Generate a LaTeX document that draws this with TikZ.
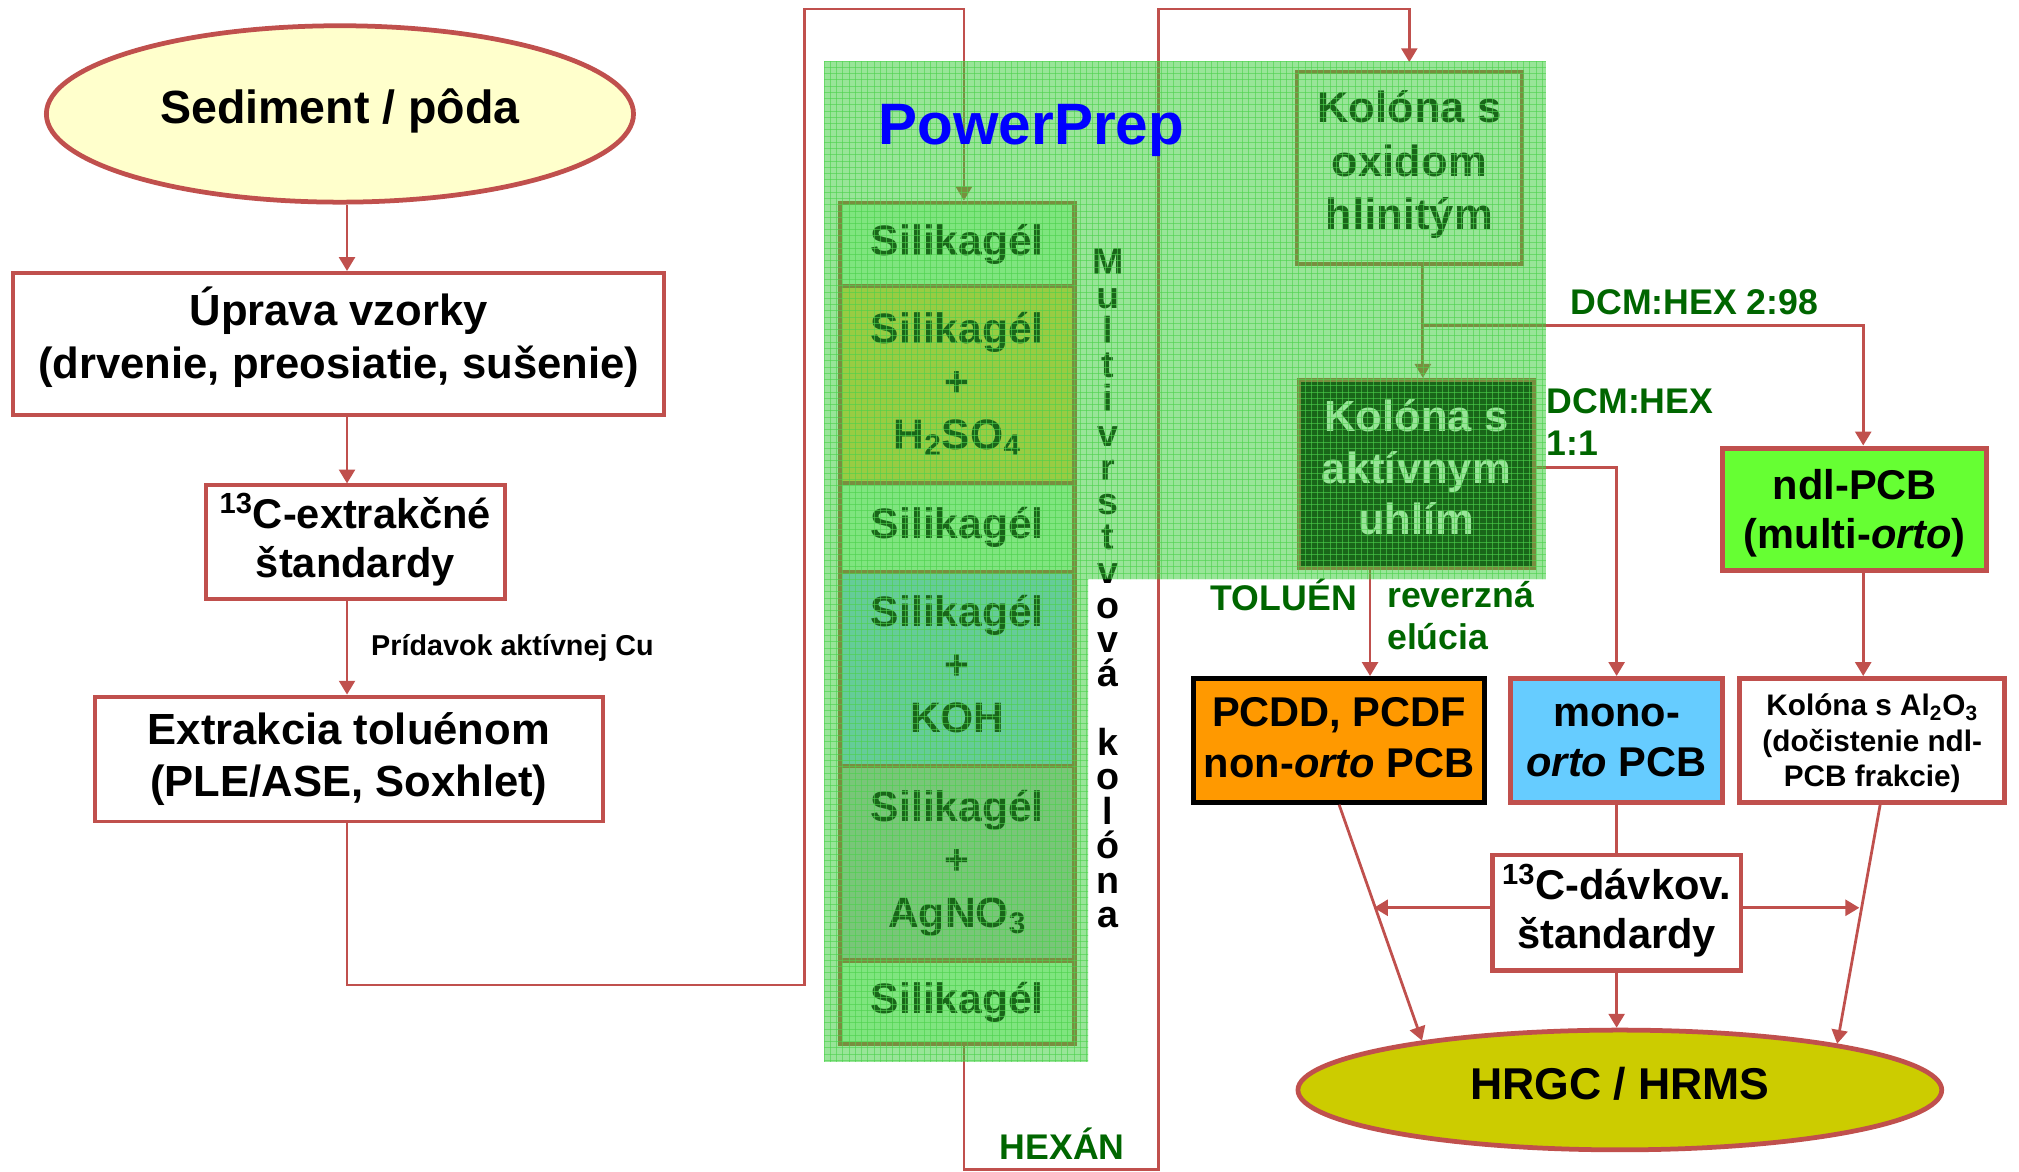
\documentclass[tikz,border=0pt]{standalone}
\usepackage{fontspec}
\setmainfont{Liberation Sans}
\usetikzlibrary{arrows.meta,shapes.geometric}
\definecolor{redb}{HTML}{C0504D}
\definecolor{dgreen}{HTML}{006600}
\definecolor{ovl}{rgb}{0.2,0.8,0.2}
\definecolor{gridc}{rgb}{0.3,0.82,0.3}
\definecolor{lyel}{HTML}{FFFFCC}
\definecolor{hrgcc}{HTML}{CCCC00}
\definecolor{pcddc}{HTML}{FF9900}
\definecolor{monoc}{HTML}{66CCFF}
\definecolor{ndlc}{HTML}{66FF33}
\definecolor{silc}{HTML}{CCFFCC}
\definecolor{hsoc}{HTML}{FFCC55}
\definecolor{kohc}{HTML}{99CCFF}
\definecolor{agc}{HTML}{C0C0C0}
\definecolor{ppblue}{HTML}{0000FF}
\newcommand\fsA{\fontsize{22}{26.7}\selectfont}
\newcommand\fsB{\fontsize{21}{24.8}\selectfont}
\newcommand\fsC{\fontsize{21}{25.5}\selectfont}
\newcommand\fsD{\fontsize{15}{17.9}\selectfont}
\newcommand\fsL{\fontsize{18}{21.3}\selectfont}
\newcommand\fsS{\fontsize{21.5}{26.6}\selectfont}
\newcommand\bx[7]{\node[#6, minimum width={(#4-#2)*0.65pt}, minimum height={(#5-#3)*0.65pt}] (#1) at ({(#2+#4)/2},{(#3+#5)/2}) {#7};}
\begin{document}
\begin{tikzpicture}[x=0.65pt,y=-0.65pt,
  every node/.style={font=\bfseries, inner sep=0pt, align=center},
  box/.style={rectangle, draw=redb, line width=2pt, fill=white},
  rbox/.style={rectangle, draw=redb, line width=2.6pt, fill=white},
  cell/.style={rectangle, draw=redb, line width=2.2pt, font=\bfseries\fsS},
  conn/.style={draw=redb, line width=1.4pt},
  arr/.style={conn, -{Triangle[length=7pt,width=8pt]}},
  lbl/.style={text=dgreen, font=\bfseries\fsL},
  vl/.style={font=\bfseries\fontsize{19}{19}\selectfont, anchor=base},
]
\useasboundingbox (0,0) rectangle (1568,910);
\fill[white] (0,0) rectangle (1568,910);

% left column
\node[ellipse, draw=redb, line width=2.4pt, fill=lyel, minimum width={456*0.65pt}, minimum height={137*0.65pt}, font=\bfseries\fontsize{23.5}{28}\selectfont, text depth=8pt] (sed) at (264,88.5) {Sediment / pôda};
\bx{upr}{10}{212}{516}{322}{box, font=\bfseries\fsA, text depth=11pt}{Úprava vzorky\\(drvenie, preosiatie, sušenie)}
\bx{e13}{160}{377}{392}{465}{box, font=\bfseries\fsB, text depth=7pt}{\textsuperscript{13}C-extrakčné\\štandardy}
\bx{extr}{74}{541}{468}{638}{box, font=\bfseries\fsA}{Extrakcia toluénom\\(PLE/ASE, Soxhlet)}
\coordinate (cx) at (269.5,0);
\draw[arr] (sed.south -| cx) -- (upr.north -| cx);
\draw[arr] (upr.south -| cx) -- (e13.north -| cx);
\draw[arr] (e13.south -| cx) -- (extr.north -| cx);
\node[anchor=west, font=\bfseries\fontsize{14.5}{17}\selectfont] (cu) at (288,503) {Prídavok aktívnej Cu};

% multilayer column
\bx{s1}{652.5}{157.5}{834.5}{222}{cell, fill=silc}{Silikagél}
\bx{s2}{652.5}{222}{834.5}{375}{cell, fill=hsoc}{Silikagél\\+\\H\textsubscript{2}SO\textsubscript{4}}
\bx{s3}{652.5}{375}{834.5}{444}{cell, fill=silc}{Silikagél}
\bx{s4}{652.5}{444}{834.5}{595}{cell, fill=kohc, text depth=5pt}{Silikagél\\+\\KOH}
\bx{s5}{652.5}{595}{834.5}{746}{cell, fill=agc}{Silikagél\\+\\AgNO\textsubscript{3}}
\bx{s6}{652.5}{746}{834.5}{811}{cell, fill=silc}{Silikagél}

\coordinate (ra) at (625,765);
\coordinate (rb) at (748.6,7);
\draw[arr] (extr.south -| cx) |- (ra) |- (rb) -- (s1.north -| rb);

% right part
\bx{oxid}{1007}{56}{1182}{205}{box, font=\bfseries\fontsize{22}{27}\selectfont, text depth=8pt}{Kolóna s\\oxidom\\hlinitým}
\bx{uhl}{1009}{295}{1191}{441}{box, fill=black, text=white, font=\bfseries\fontsize{22}{26}\selectfont, text depth=6.5pt}{Kolóna s\\aktívnym\\uhlím}
\bx{ndl}{1338}{348}{1543}{443}{rbox, fill=ndlc, font=\bfseries\fontsize{21}{24.7}\selectfont, text depth=0pt}{ndl-PCB\\(multi-\textit{orto})}
\bx{pcdd}{927}{527}{1153}{623}{rbox, draw=black, fill=pcddc, font=\bfseries\fsC, text depth=3pt}{PCDD, PCDF\\non-\textit{orto} PCB}
\bx{mono}{1173}{527}{1338}{623}{rbox, fill=monoc, font=\bfseries\fsC}{mono-\\\textit{orto} PCB}
\bx{alb}{1351}{527}{1557}{623}{rbox, font=\bfseries\fsD, text depth=0pt}{Kolóna s Al\textsubscript{2}O\textsubscript{3}\\(dočistenie ndl-\\PCB frakcie)}
\bx{dav}{1159}{664}{1352}{754}{box, line width=2.4pt, font=\bfseries\fsB, text depth=7pt}{\textsuperscript{13}C-dávkov.\\štandardy}
\node[ellipse, draw=redb, line width=2.4pt, fill=hrgcc, minimum width={500*0.65pt}, minimum height={93*0.65pt}, font=\bfseries\fontsize{22.5}{27}\selectfont, text depth=7pt] (hrgc) at (1258,846.5) {HRGC / HRMS};

\coordinate (hb) at (748.6,908.5);
\coordinate (hc) at (899.5,7);
\draw[arr, shorten >=4pt] (s6.south -| hb) -- (hb) -| (hc) -| (oxid.north);

\coordinate (ox) at (1105,253);
\coordinate (nx) at (1447,0);
\coordinate (my) at (0,363);
\coordinate (tx) at (1064,0);
\draw[arr] (oxid.south -| ox) -- (uhl.north -| ox);
\draw[arr] (ox) -| (ndl.north -| nx);
\draw[arr] (uhl.east |- my) -| (mono.north);
\draw[arr] (uhl.south -| tx) -- (pcdd.north -| tx);
\draw[arr] (ndl.south -| nx) -- (alb.north -| nx);

\draw[conn] (mono.south) -- (dav.north -| mono.south);
\draw[arr] (dav.south) -- (hrgc.north -| dav.south);
\draw[arr] (pcdd.south) -- (hrgc.166);
\draw[arr] ([xshift=4pt]alb.south) -- (hrgc.12.6);
\coordinate (hl) at (1067,705);
\coordinate (hr) at (1444,705);
\draw[arr] (dav.west |- hl) -- (hl);
\draw[arr] (dav.east |- hr) -- (hr);

% labels
\node[lbl] (l298) at (1316,235) {DCM:HEX 2:98};
\node[lbl, anchor=west, align=left] (l11) at (1201,327.5) {DCM:HEX\\1:1};
\node[lbl] (ltol) at (997,462) {TOLUÉN};
\node[lbl, anchor=west, align=left] (lrev) at (1077,478) {reverzná\\elúcia};
\node[lbl] (lhex) at (825,888) {HEXÁN};

% vertical text
\foreach \ch/\k [count=\i] in {M/0,u/1,l/2,t/3,i/4,v/5,r/6,s/7,t/8,v/9,o/10,v/11,á/12,k/14,o/15,l/16,ó/17,n/18,a/19}
  \node[vl] (vl\i) at (860.5,{213+26.7*\k}) {\ch};

% PowerPrep overlay
\begin{scope}
\path[clip] (640,47.4) -- (1200.7,47.4) -- (1200.7,449.7) -- (845,449.7) -- (845,824.8) -- (640,824.8) -- cycle;
\fill[ovl, opacity=0.5] (640,47.4) rectangle (1200.7,824.8);
\foreach \i in {0,...,116} \draw[gridc, line width=0.4pt, opacity=0.6] ({640+4.85*\i},47.4) -- ({640+4.85*\i},824.8);
\foreach \j in {0,...,161} \draw[gridc, line width=0.4pt, opacity=0.6] (640,{47.4+4.85*\j}) -- (1200.7,{47.4+4.85*\j});
\end{scope}
\node[text=ppblue, font=\bfseries\fontsize{29.5}{34}\selectfont] (pp) at (801,101) {PowerPrep};
\end{tikzpicture}
\end{document}
